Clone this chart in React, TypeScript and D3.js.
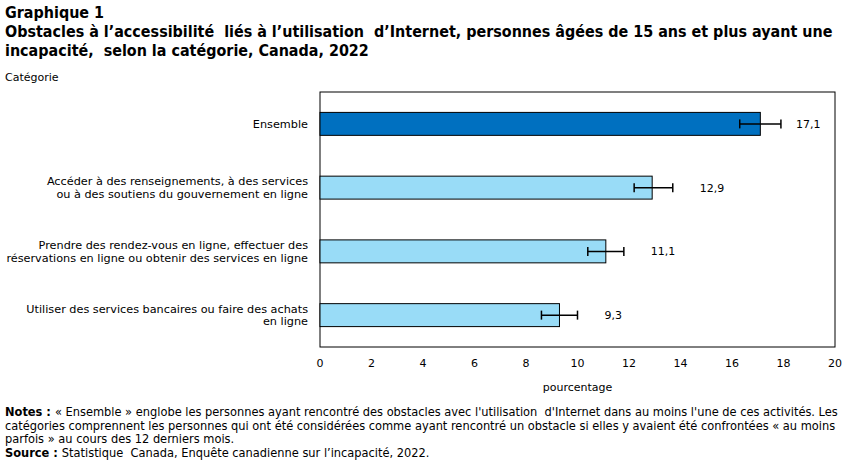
import React, { useEffect, useRef } from "react";
import * as d3 from "d3";

// Obstacles par catégorie (pourcentage), avec intervalles de confiance
const categories = [
  ["Ensemble"],
  ["Accéder à des renseignements, à des services", "ou à des soutiens du gouvernement en ligne"],
  ["Prendre des rendez-vous en ligne, effectuer des", "réservations en ligne ou obtenir des services en ligne"],
  ["Utiliser des services bancaires ou faire des achats", "en ligne"],
];
const values = [17.1, 12.9, 11.1, 9.3];
const lows = [16.3, 12.2, 10.4, 8.6];
const highs = [17.9, 13.7, 11.8, 10.0];
const xTicks = [0, 2, 4, 6, 8, 10, 12, 14, 16, 18, 20];

const titleLines = [
  "Graphique 1",
  "Obstacles à l\u2019accessibilité  liés à l\u2019utilisation  d\u2019Internet, personnes âgées de 15 ans et plus ayant une",
  "incapacité,  selon la catégorie, Canada, 2022",
];
const noteLines = [
  ["Notes : ", "« Ensemble » englobe les personnes ayant rencontré des obstacles avec l'utilisation  d'Internet dans au moins l'une de ces activités. Les"],
  ["", "catégories comprennent les personnes qui ont été considérées comme ayant rencontré un obstacle si elles y avaient été confrontées « au moins"],
  ["", "parfois » au cours des 12 derniers mois."],
  ["Source : ", "Statistique  Canada, Enquête canadienne sur l\u2019incapacité, 2022."],
];

const W = 850;
const H = 465;
const plot = { left: 320, right: 835, top: 92, bottom: 347 };
const verdana = "Verdana, 'DejaVu Sans', sans-serif";
const tahoma = "Tahoma, 'DejaVu Sans Condensed', 'Liberation Sans', sans-serif";

export default function App() {
  const ref = useRef<SVGSVGElement>(null);

  useEffect(() => {
    document.body.style.margin = "0";
    const svg = d3.select(ref.current);
    svg.selectAll("*").remove();

    const x = d3.scaleLinear().domain([0, 20]).range([plot.left, plot.right]);
    const y = d3
      .scaleBand<number>()
      .domain(d3.range(values.length))
      .range([plot.top, plot.bottom])
      .paddingInner(0.64)
      .paddingOuter(0.32);

    // titre : taille ajustée pour que la 2e ligne occupe toute la largeur
    const title = svg
      .append("g")
      .selectAll("text")
      .data(titleLines)
      .join("text")
      .attr("x", 5)
      .attr("y", (d, i) => 18 + i * 19)
      .attr("font-family", tahoma)
      .attr("font-weight", "bold")
      .attr("font-size", 15)
      .attr("xml:space", "preserve")
      .text((d) => d);
    const tLen = (title.nodes()[1] as SVGTextElement).getComputedTextLength();
    if (tLen > 0) title.attr("font-size", Math.min(17, (15 * 828) / tLen));

    svg
      .append("text")
      .attr("x", 5)
      .attr("y", 81)
      .attr("font-family", verdana)
      .attr("font-size", 11)
      .text("Catégorie");

    // cadre
    svg
      .append("rect")
      .attr("x", plot.left)
      .attr("y", plot.top)
      .attr("width", plot.right - plot.left)
      .attr("height", plot.bottom - plot.top)
      .attr("fill", "none")
      .attr("stroke", "#000")
      .attr("stroke-width", 1);

    // barres
    svg
      .append("g")
      .selectAll("rect")
      .data(values)
      .join("rect")
      .attr("x", x(0))
      .attr("y", (d, i) => y(i)!)
      .attr("width", (d) => x(d) - x(0))
      .attr("height", y.bandwidth())
      .attr("fill", (d, i) => (i === 0 ? "#0070c0" : "#99dcf7"))
      .attr("stroke", "#000")
      .attr("stroke-width", 1);

    // intervalles de confiance
    const err = svg
      .append("g")
      .selectAll("g")
      .data(values)
      .join("g")
      .attr("stroke", "#000")
      .attr("stroke-width", 1.5);
    const cy = (i: number) => y(i)! + y.bandwidth() / 2;
    err
      .append("line")
      .attr("x1", (d, i) => x(lows[i]))
      .attr("x2", (d, i) => x(highs[i]))
      .attr("y1", (d, i) => cy(i))
      .attr("y2", (d, i) => cy(i));
    err
      .append("line")
      .attr("x1", (d, i) => x(lows[i]))
      .attr("x2", (d, i) => x(lows[i]))
      .attr("y1", (d, i) => cy(i) - 4.5)
      .attr("y2", (d, i) => cy(i) + 4.5);
    err
      .append("line")
      .attr("x1", (d, i) => x(highs[i]))
      .attr("x2", (d, i) => x(highs[i]))
      .attr("y1", (d, i) => cy(i) - 4.5)
      .attr("y2", (d, i) => cy(i) + 4.5);

    // étiquettes de valeur
    svg
      .append("g")
      .selectAll("text")
      .data(values)
      .join("text")
      .attr("x", (d, i) => Math.min(x(highs[i]) + 27, plot.right - 39))
      .attr("y", (d, i) => cy(i) + 4)
      .attr("font-family", verdana)
      .attr("font-size", 11)
      .text((d) => d3.format(".1f")(d).replace(".", ","));

    // catégories
    const cat = svg
      .append("g")
      .selectAll("text")
      .data(categories)
      .join("text")
      .attr("text-anchor", "end")
      .attr("font-family", verdana)
      .attr("font-size", 11.25);
    cat
      .selectAll("tspan")
      .data((d, i) => d.map((line, j) => ({ line, j, n: d.length, i })))
      .join("tspan")
      .attr("x", 308)
      .attr("y", (t) => cy(t.i) + 4 + (t.j - (t.n - 1) / 2) * 12.5)
      .text((t) => t.line);

    // axe x
    svg
      .append("g")
      .selectAll("text")
      .data(xTicks)
      .join("text")
      .attr("x", (d) => x(d))
      .attr("y", plot.bottom + 20)
      .attr("text-anchor", "middle")
      .attr("font-family", verdana)
      .attr("font-size", 11)
      .text((d) => d);

    svg
      .append("text")
      .attr("x", (plot.left + plot.right) / 2)
      .attr("y", plot.bottom + 44)
      .attr("text-anchor", "middle")
      .attr("font-family", verdana)
      .attr("font-size", 11)
      .text("pourcentage");

    // notes et source : taille ajustée sur la 1re ligne
    const notes = svg
      .append("g")
      .selectAll("text")
      .data(noteLines)
      .join("text")
      .attr("x", 5)
      .attr("y", (d, i) => 416 + i * 13.7)
      .attr("font-family", tahoma)
      .attr("font-size", 11.5)
      .attr("xml:space", "preserve");
    notes
      .append("tspan")
      .attr("font-weight", "bold")
      .text((d) => d[0]);
    notes.append("tspan").text((d) => d[1]);
    const nLen = (notes.nodes()[0] as SVGTextElement).getComputedTextLength();
    if (nLen > 0) notes.attr("font-size", Math.min(13, (11.5 * 833) / nLen));
  }, []);

  return <svg ref={ref} width={W} height={H} style={{ display: "block", background: "#fff" }} />;
}
